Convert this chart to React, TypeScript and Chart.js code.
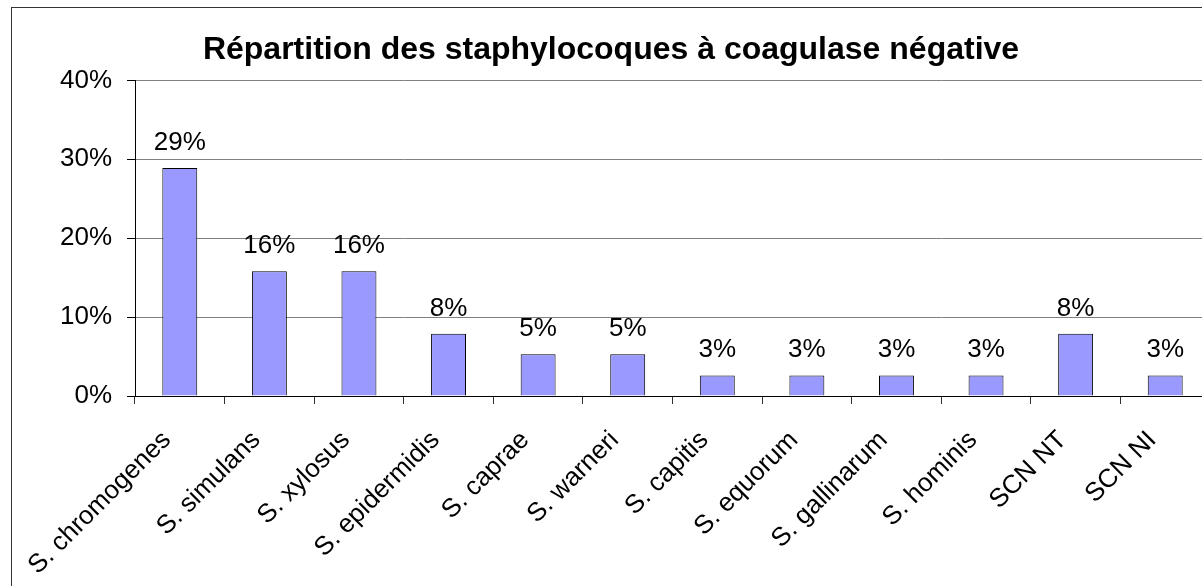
import React, { useEffect, useRef } from "react";
import { Chart, registerables } from "chart.js";

Chart.register(...registerables);

const title = "Répartition des staphylocoques à coagulase négative";
const categories = [
  "S. chromogenes",
  "S. simulans",
  "S. xylosus",
  "S. epidermidis",
  "S. caprae",
  "S. warneri",
  "S. capitis",
  "S. equorum",
  "S. gallinarum",
  "S. hominis",
  "SCN NT",
  "SCN NI",
];
const values = [28.9, 15.8, 15.8, 7.9, 5.3, 5.3, 2.6, 2.6, 2.6, 2.6, 7.9, 2.6];
const valueLabels = ["29%", "16%", "16%", "8%", "5%", "5%", "3%", "3%", "3%", "3%", "8%", "3%"];
const yMin = 0;
const yMax = 40;
const yStep = 10;

const FONT = "'Liberation Sans', Arial, Helvetica, sans-serif";

const barLabelPlugin = {
  id: "barLabels",
  afterDatasetsDraw(chart: any) {
    const ctx = chart.ctx;
    const meta = chart.getDatasetMeta(0);
    ctx.save();
    ctx.font = `26px ${FONT}`;
    ctx.fillStyle = "#000";
    ctx.textAlign = "center";
    ctx.textBaseline = "alphabetic";
    meta.data.forEach((el: any, i: number) => {
      ctx.fillText(valueLabels[i], el.x, el.y - 18);
    });
    ctx.restore();
  },
};

export default function App() {
  const ref = useRef<HTMLCanvasElement | null>(null);

  useEffect(() => {
    document.body.style.overflow = "hidden";
    document.documentElement.style.overflow = "hidden";
    const canvas = ref.current;
    if (!canvas) return;
    const chart = new Chart(canvas, {
      type: "bar",
      data: {
        labels: categories,
        datasets: [
          {
            data: values,
            backgroundColor: "#9999FF",
            borderColor: "#000000",
            borderWidth: 1,
            barPercentage: 0.39,
            categoryPercentage: 1,
          },
        ],
      },
      options: {
        responsive: false,
        animation: false,
        devicePixelRatio: 1,
        layout: { padding: { left: 0, right: 2, top: 0, bottom: 0 } },
        plugins: {
          legend: { display: false },
          tooltip: { enabled: false },
          title: {
            display: true,
            text: title,
            color: "#000",
            font: { family: FONT, size: 32, weight: "bold" },
            padding: { top: 23, bottom: 11 },
          },
        },
        scales: {
          x: {
            offset: true,
            grid: {
              display: true,
              drawOnChartArea: false,
              drawTicks: true,
              tickLength: 8,
              tickColor: "#333",
              offset: true,
            },
            border: { display: true, color: "#000", width: 1 },
            ticks: {
              color: "#000",
              font: { family: FONT, size: 26 },
              maxRotation: 45,
              minRotation: 45,
              autoSkip: false,
              padding: 21,
              labelOffset: -13,
            },
            afterFit: (scale: any) => {
              scale.height = 232;
            },
          },
          y: {
            min: yMin,
            max: yMax,
            grid: {
              color: "#808080",
              lineWidth: 1,
              tickLength: 8,
              tickColor: "#000",
            },
            border: { display: true, color: "#000", width: 1 },
            ticks: {
              stepSize: yStep,
              color: "#000",
              font: { family: FONT, size: 26 },
              padding: 15,
              callback: (v: any) => `${v}%`,
            },
            afterFit: (scale: any) => {
              scale.width = 123;
            },
          },
        },
      },
      plugins: [barLabelPlugin],
    });
    return () => chart.destroy();
  }, []);

  return (
    <div
      style={{
        position: "absolute",
        left: 11,
        top: 7,
        width: 1230,
        height: 640,
        border: "1px solid #333",
        background: "#fff",
      }}
    >
      <canvas
        ref={ref}
        width={1200}
        height={620}
        style={{ position: "absolute", left: 0, top: 0, width: 1200, height: 620 }}
      />
    </div>
  );
}
